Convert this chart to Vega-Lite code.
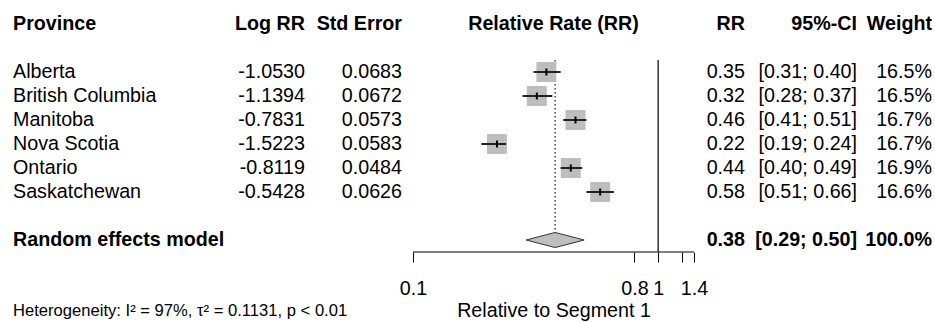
{
  "$schema": "https://vega.github.io/schema/vega-lite/v6.json",
  "padding": {"left": 13, "top": 0, "right": 0, "bottom": 0},
  "spacing": 0,
  "bounds": "flush",
  "config": {
    "view": {"stroke": null},
    "font": "Liberation Sans",
    "text": {"font": "Liberation Sans", "fontSize": 19.7, "baseline": "middle", "color": "#000"},
    "axis": {"labelFont": "Liberation Sans", "titleFont": "Liberation Sans"},
    "title": {"font": "Liberation Sans"}
  },
  "datasets": {
    "studies": [
      {"study": "Alberta", "logrr": -1.0530, "se": 0.0683, "rr": 0.35, "lo": 0.31, "hi": 0.40, "weight": 16.5},
      {"study": "British Columbia", "logrr": -1.1394, "se": 0.0672, "rr": 0.32, "lo": 0.28, "hi": 0.37, "weight": 16.5},
      {"study": "Manitoba", "logrr": -0.7831, "se": 0.0573, "rr": 0.46, "lo": 0.41, "hi": 0.51, "weight": 16.7},
      {"study": "Nova Scotia", "logrr": -1.5223, "se": 0.0583, "rr": 0.22, "lo": 0.19, "hi": 0.24, "weight": 16.7},
      {"study": "Ontario", "logrr": -0.8119, "se": 0.0484, "rr": 0.44, "lo": 0.40, "hi": 0.49, "weight": 16.9},
      {"study": "Saskatchewan", "logrr": -0.5428, "se": 0.0626, "rr": 0.58, "lo": 0.51, "hi": 0.66, "weight": 16.6}
    ],
    "pooled": [
      {"study": "Random effects model", "rr": 0.38, "lo": 0.29, "hi": 0.50, "weight": 100.0}
    ],
    "reference": [{"rr": 1}],
    "axisSpan": [{"from": 0.1, "to": 1.4}]
  },
  "hconcat": [
    {
      "width": 227,
      "height": 252,
      "title": {
        "text": "Heterogeneity: I² = 97%, τ² = 0.1131, p < 0.01",
        "orient": "bottom", "anchor": "start", "frame": "group", "offset": 51,
        "fontSize": 16.6, "fontWeight": "normal", "color": "#000"
      },
      "encoding": {
        "y": {"field": "study", "type": "nominal", "axis": null,
              "scale": {"type": "band", "domain": ["hdr", "gap1", "Alberta", "British Columbia", "Manitoba", "Nova Scotia", "Ontario", "Saskatchewan", "gap2", "Random effects model"], "paddingInner": 0, "paddingOuter": 0.25, "align": 1}}
      },
      "layer": [
        {"data": {"values": [{"head": "Province"}]},
         "mark": {"type": "text", "align": "left", "fontWeight": "bold"},
         "encoding": {"y": {"datum": "hdr", "type": "nominal"}, "x": {"value": 0}, "text": {"field": "head"}}},
        {"data": {"name": "studies"},
         "mark": {"type": "text", "align": "left"},
         "encoding": {"x": {"value": 0}, "text": {"field": "study"}}},
        {"data": {"name": "pooled"},
         "mark": {"type": "text", "align": "left", "fontWeight": "bold"},
         "encoding": {"x": {"value": 0}, "text": {"field": "study"}}}
      ]
    },
    {
      "width": 65,
      "height": 252,
      "encoding": {
        "y": {"field": "study", "type": "nominal", "axis": null,
              "scale": {"type": "band", "domain": ["hdr", "gap1", "Alberta", "British Columbia", "Manitoba", "Nova Scotia", "Ontario", "Saskatchewan", "gap2", "Random effects model"], "paddingInner": 0, "paddingOuter": 0.25, "align": 1}}
      },
      "layer": [
        {"data": {"values": [{"head": "Log RR"}]},
         "mark": {"type": "text", "align": "right", "fontWeight": "bold"},
         "encoding": {"y": {"datum": "hdr", "type": "nominal"}, "x": {"value": "width"}, "text": {"field": "head"}}},
        {"data": {"name": "studies"},
         "transform": [{"calculate": "replace(format(datum.logrr, '.4f'), '\u2212', '-')", "as": "logrrText"}],
         "mark": {"type": "text", "align": "right"},
         "encoding": {"x": {"value": "width"}, "text": {"field": "logrrText"}}}
      ]
    },
    {
      "width": 97,
      "height": 252,
      "encoding": {
        "y": {"field": "study", "type": "nominal", "axis": null,
              "scale": {"type": "band", "domain": ["hdr", "gap1", "Alberta", "British Columbia", "Manitoba", "Nova Scotia", "Ontario", "Saskatchewan", "gap2", "Random effects model"], "paddingInner": 0, "paddingOuter": 0.25, "align": 1}}
      },
      "layer": [
        {"data": {"values": [{"head": "Std Error"}]},
         "mark": {"type": "text", "align": "right", "fontWeight": "bold"},
         "encoding": {"y": {"datum": "hdr", "type": "nominal"}, "x": {"value": "width"}, "text": {"field": "head"}}},
        {"data": {"name": "studies"},
         "mark": {"type": "text", "align": "right"},
         "encoding": {"x": {"value": "width"}, "text": {"field": "se", "format": ".4f"}}}
      ]
    },
    {
      "width": 303,
      "height": 252,
      "encoding": {
        "y": {"field": "study", "type": "nominal", "axis": null,
              "scale": {"type": "band", "domain": ["hdr", "gap1", "Alberta", "British Columbia", "Manitoba", "Nova Scotia", "Ontario", "Saskatchewan", "gap2", "Random effects model"], "paddingInner": 0, "paddingOuter": 0.25, "align": 1}}
      },
      "layer": [
        {"data": {"name": "axisSpan"},
         "mark": {"type": "rule", "color": "#000", "strokeWidth": 1},
         "encoding": {
           "x": {"field": "from", "type": "quantitative",
                 "scale": {"type": "log", "domain": [0.09018, 1.5525], "nice": false, "zero": false},
                 "axis": {"values": [0.1, 0.8, 1, 1.25, 1.4],
                          "labelExpr": "datum.value == 1.25 ? '' : format(datum.value, '~g')",
                          "domain": false, "grid": false, "ticks": true, "tickSize": 10,
                          "tickColor": "#000", "tickWidth": 1,
                          "labelFontSize": 19.7, "labelColor": "#000", "labelPadding": 16,
                          "labelFlush": false, "labelOverlap": false,
                          "title": "Relative to Segment 1", "titleFontSize": 19.7,
                          "titleFontWeight": "normal", "titleColor": "#000", "titlePadding": 3}},
           "x2": {"field": "to"},
           "y": {"value": "height"}
         }},
        {"data": {"name": "reference"},
         "mark": {"type": "rule", "color": "#333", "strokeWidth": 1.5},
         "encoding": {
           "x": {"field": "rr", "type": "quantitative", "scale": {"type": "log", "domain": [0.09018, 1.5525], "nice": false, "zero": false}},
           "y": {"datum": "Alberta", "type": "nominal", "bandPosition": 0},
           "y2": {"value": "height"}
         }},
        {"data": {"name": "pooled"},
         "mark": {"type": "rule", "color": "#444", "strokeWidth": 1.5, "strokeDash": [1.5, 2.5]},
         "encoding": {
           "x": {"field": "rr", "type": "quantitative", "scale": {"type": "log", "domain": [0.09018, 1.5525], "nice": false, "zero": false}},
           "y": {"datum": "Alberta", "type": "nominal", "bandPosition": 0},
           "y2": {"datum": "Random effects model"}
         }},
        {"data": {"name": "studies"},
         "mark": {"type": "point", "shape": "square", "filled": true, "size": 400, "color": "#bebebe", "opacity": 1},
         "encoding": {
           "x": {"field": "rr", "type": "quantitative", "scale": {"type": "log", "domain": [0.09018, 1.5525], "nice": false, "zero": false}}
         }},
        {"data": {"name": "studies"},
         "mark": {"type": "rule", "color": "#222", "strokeWidth": 2},
         "encoding": {
           "x": {"field": "lo", "type": "quantitative", "scale": {"type": "log", "domain": [0.09018, 1.5525], "nice": false, "zero": false}},
           "x2": {"field": "hi"}
         }},
        {"data": {"name": "studies"},
         "mark": {"type": "tick", "orient": "vertical", "size": 7, "thickness": 2, "color": "#000", "opacity": 1},
         "encoding": {
           "x": {"field": "rr", "type": "quantitative", "scale": {"type": "log", "domain": [0.09018, 1.5525], "nice": false, "zero": false}}
         }},
        {"data": {"name": "pooled"},
         "mark": {"type": "point", "shape": "M-1,0L0,-0.26L1,0L0,0.26Z", "size": 3364, "filled": true,
                  "fill": "#bebebe", "stroke": "#333", "strokeWidth": 1, "opacity": 1},
         "encoding": {
           "x": {"field": "rr", "type": "quantitative", "scale": {"type": "log", "domain": [0.09018, 1.5525], "nice": false, "zero": false}}
         }},
        {"data": {"values": [{"head": "Relative Rate (RR)"}]},
         "mark": {"type": "text", "align": "center", "fontWeight": "bold"},
         "encoding": {"y": {"datum": "hdr", "type": "nominal"}, "text": {"field": "head"}}}
      ]
    },
    {
      "width": 40,
      "height": 252,
      "encoding": {
        "y": {"field": "study", "type": "nominal", "axis": null,
              "scale": {"type": "band", "domain": ["hdr", "gap1", "Alberta", "British Columbia", "Manitoba", "Nova Scotia", "Ontario", "Saskatchewan", "gap2", "Random effects model"], "paddingInner": 0, "paddingOuter": 0.25, "align": 1}}
      },
      "layer": [
        {"data": {"values": [{"head": "RR"}]},
         "mark": {"type": "text", "align": "right", "fontWeight": "bold"},
         "encoding": {"y": {"datum": "hdr", "type": "nominal"}, "x": {"value": "width"}, "text": {"field": "head"}}},
        {"data": {"name": "studies"},
         "mark": {"type": "text", "align": "right"},
         "encoding": {"x": {"value": "width"}, "text": {"field": "rr", "format": ".2f"}}},
        {"data": {"name": "pooled"},
         "mark": {"type": "text", "align": "right", "fontWeight": "bold"},
         "encoding": {"x": {"value": "width"}, "text": {"field": "rr", "format": ".2f"}}}
      ]
    },
    {
      "width": 112,
      "height": 252,
      "encoding": {
        "y": {"field": "study", "type": "nominal", "axis": null,
              "scale": {"type": "band", "domain": ["hdr", "gap1", "Alberta", "British Columbia", "Manitoba", "Nova Scotia", "Ontario", "Saskatchewan", "gap2", "Random effects model"], "paddingInner": 0, "paddingOuter": 0.25, "align": 1}}
      },
      "layer": [
        {"data": {"values": [{"head": "95%-CI"}]},
         "mark": {"type": "text", "align": "right", "fontWeight": "bold"},
         "encoding": {"y": {"datum": "hdr", "type": "nominal"}, "x": {"value": "width"}, "text": {"field": "head"}}},
        {"data": {"name": "studies"},
         "transform": [{"calculate": "'[' + format(datum.lo, '.2f') + '; ' + format(datum.hi, '.2f') + ']'", "as": "ci"}],
         "mark": {"type": "text", "align": "right"},
         "encoding": {"x": {"value": "width"}, "text": {"field": "ci"}}},
        {"data": {"name": "pooled"},
         "transform": [{"calculate": "'[' + format(datum.lo, '.2f') + '; ' + format(datum.hi, '.2f') + ']'", "as": "ci"}],
         "mark": {"type": "text", "align": "right", "fontWeight": "bold"},
         "encoding": {"x": {"value": "width"}, "text": {"field": "ci"}}}
      ]
    },
    {
      "width": 75,
      "height": 252,
      "encoding": {
        "y": {"field": "study", "type": "nominal", "axis": null,
              "scale": {"type": "band", "domain": ["hdr", "gap1", "Alberta", "British Columbia", "Manitoba", "Nova Scotia", "Ontario", "Saskatchewan", "gap2", "Random effects model"], "paddingInner": 0, "paddingOuter": 0.25, "align": 1}}
      },
      "layer": [
        {"data": {"values": [{"head": "Weight"}]},
         "mark": {"type": "text", "align": "right", "fontWeight": "bold"},
         "encoding": {"y": {"datum": "hdr", "type": "nominal"}, "x": {"value": "width"}, "text": {"field": "head"}}},
        {"data": {"name": "studies"},
         "transform": [{"calculate": "format(datum.weight, '.1f') + '%'", "as": "w"}],
         "mark": {"type": "text", "align": "right"},
         "encoding": {"x": {"value": "width"}, "text": {"field": "w"}}},
        {"data": {"name": "pooled"},
         "transform": [{"calculate": "format(datum.weight, '.1f') + '%'", "as": "w"}],
         "mark": {"type": "text", "align": "right", "fontWeight": "bold"},
         "encoding": {"x": {"value": "width"}, "text": {"field": "w"}}}
      ]
    }
  ]
}
